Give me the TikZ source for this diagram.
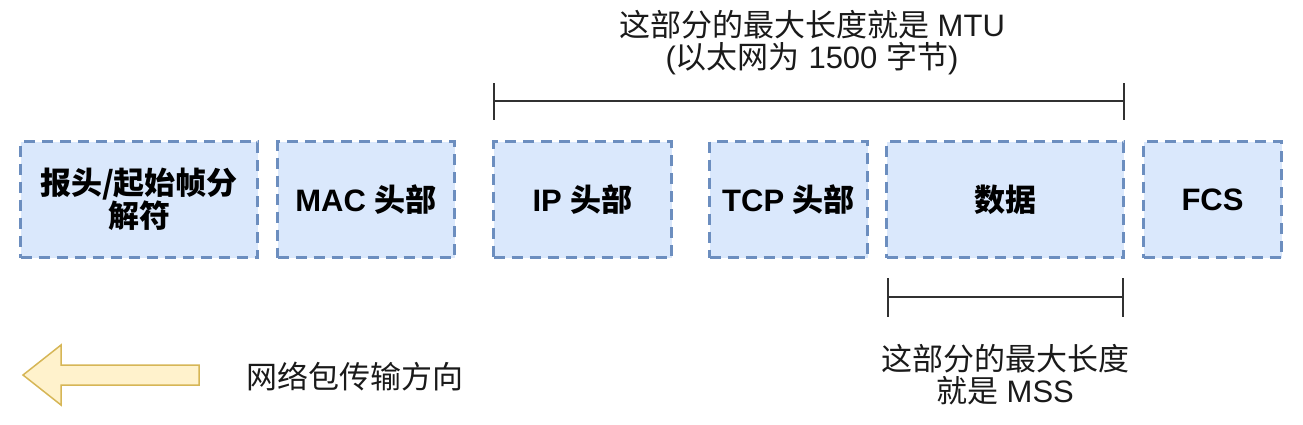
\documentclass[tikz,border=0pt]{standalone}
\usepackage{fontspec}
\setmainfont{Liberation Sans}
\newfontfamily\cjk{Noto Sans CJK SC}
\definecolor{boxfill}{HTML}{DAE8FC}
\definecolor{boxline}{HTML}{6C8EBF}
\definecolor{arrfill}{HTML}{FFF2CC}
\definecolor{arrline}{HTML}{D6B656}
\definecolor{txt}{HTML}{1A1A1A}
\tikzset{
  fieldbox/.style={draw=boxline, fill=boxfill, line width=3.4pt, dash pattern=on 11pt off 7pt,
    minimum height=116pt, inner sep=0pt, align=center, text=black,
    font=\bfseries\fontsize{31}{32}\selectfont},
  note/.style={align=center, text=txt, inner sep=0pt, font=\fontsize{31}{32}\selectfont},
  bracket/.style={draw=txt!90, line width=2pt}
}
\begin{document}
\begin{tikzpicture}[x=1pt,y=-1pt]
\useasboundingbox (0,0) rectangle (1303,424);
% boxes
\node[fieldbox, minimum width=237pt] (pre) at (139,199.5) {{\cjk 报头/起始帧分}\\{\cjk 解符}};
\node[fieldbox, minimum width=177pt] (mac) at (366,199.5) {MAC {\cjk 头部}};
\node[fieldbox, minimum width=178pt] (ip) at (582.5,199.5) {IP {\cjk 头部}};
\node[fieldbox, minimum width=158pt] (tcp) at (788.5,199.5) {TCP {\cjk 头部}};
\node[fieldbox, minimum width=237pt] (data) at (1005,199.5) {{\cjk 数据}};
\node[fieldbox, minimum width=138pt] (fcs) at (1212.5,199.5) {FCS};
% MTU bracket
\coordinate (mtuL) at (494,101);
\coordinate (mtuR) at (1124,101);
\draw[bracket] (mtuL) -- (mtuR);
\draw[bracket] ([yshift=18pt]mtuL) -- ([yshift=-19pt]mtuL);
\draw[bracket] ([yshift=18pt]mtuR) -- ([yshift=-19pt]mtuR);
\node[note] (mtu) at (812,43) {{\cjk 这部分的最大长度就是} MTU\\({\cjk 以太网为} 1500 {\cjk 字节})};
% MSS bracket
\coordinate (mssL) at (888,297);
\coordinate (mssR) at (1123,297);
\draw[bracket] (mssL) -- (mssR);
\draw[bracket] ([yshift=19pt]mssL) -- ([yshift=-20pt]mssL);
\draw[bracket] ([yshift=19pt]mssR) -- ([yshift=-20pt]mssR);
\node[note] (mss) at (1005,375) {{\cjk 这部分的最大长度}\\{\cjk 就是} MSS};
% direction arrow
\draw[fill=arrfill, draw=arrline, line width=1.5pt, line join=miter]
  (23,375) -- (61,345) -- (61,365) -- (199,365) -- (199,385) -- (61,385) -- (61,405) -- cycle;
\node[note, anchor=west] (dir) at (246,377) {\cjk 网络包传输方向};
\end{tikzpicture}
\end{document}
